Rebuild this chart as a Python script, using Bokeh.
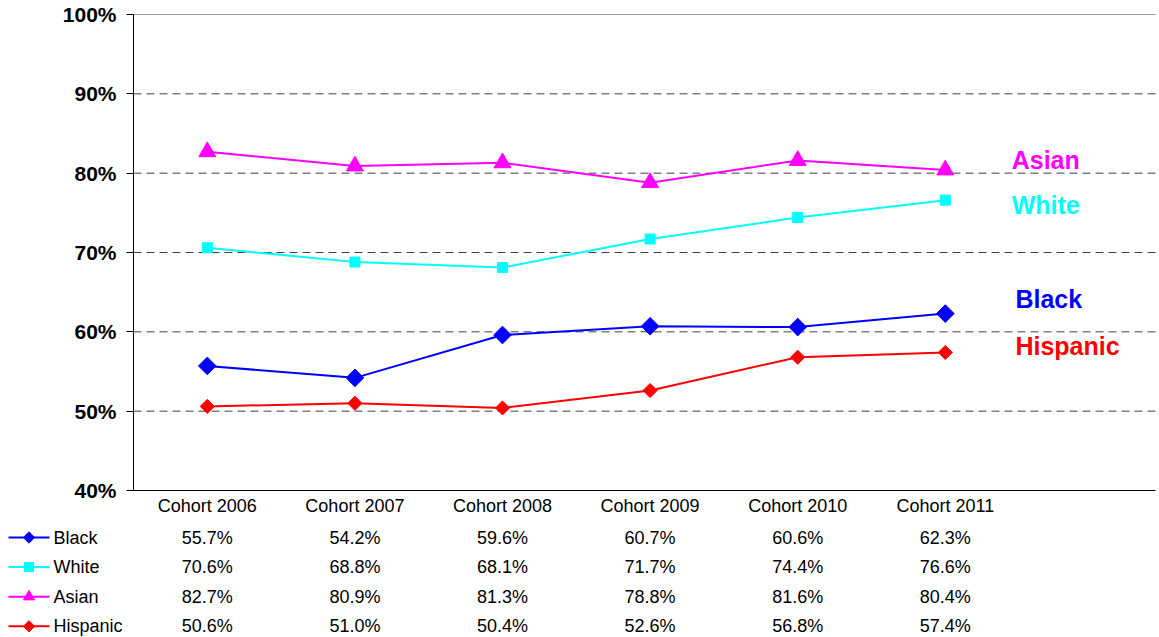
import numpy as np
from bokeh.plotting import figure
from bokeh.models import (Range1d, FixedTicker, LinearAxis, ColumnDataSource, PrintfTickFormatter)
from bokeh.embed import file_html
from bokeh.resources import INLINE
from bokeh.core.properties import value

# ---------------- data ----------------
cohorts = ["Cohort 2006", "Cohort 2007", "Cohort 2008", "Cohort 2009", "Cohort 2010", "Cohort 2011"]
black = [55.7, 54.2, 59.6, 60.7, 60.6, 62.3]
white = [70.6, 68.8, 68.1, 71.7, 74.4, 76.6]
asian = [82.7, 80.9, 81.3, 78.8, 81.6, 80.4]
hispanic = [50.6, 51.0, 50.4, 52.6, 56.8, 57.4]
series_names = ["Black", "White", "Asian", "Hispanic"]
series_values = [black, white, asian, hispanic]
y_ticks = [40, 50, 60, 70, 80, 90, 100]
grid_ticks = [50, 60, 70, 80, 90]
y_min, y_max = 40, 100

# ---------------- styles / layout ----------------
FONT = "Liberation Sans"
colors = ["#0000FF", "#00FFFF", "#FF00FF", "#FF0000"]
markers = ["square", "square", "triangle", "square"]
angles = [np.pi / 4, 0, 0, np.pi / 4]
msizes = [12.5, 10, 17, 10]
key_sizes = [8, 9, 11, 8]
end_label_x = [5.975, 5.95, 5.95, 5.975]
end_label_y = [64.1, 76.0, 81.7, 58.2]

W, H = 1157, 636
AX_LEFT, AX_TOP, AX_RIGHT = 133, 14, 1155   # screen position of the plot area
PX_PER_CAT = 147.6
PX_PER_PCT = 476 / 60.0
x_start = -AX_LEFT / PX_PER_CAT
x_stop = (W - AX_LEFT) / PX_PER_CAT
x_end = (AX_RIGHT - AX_LEFT) / PX_PER_CAT
y_top = y_max + AX_TOP / PX_PER_PCT
y_bottom = y_max - (H - AX_TOP) / PX_PER_PCT
xs = [i + 0.5 for i in range(len(cohorts))]

def sx(px):
    return (px - AX_LEFT) / PX_PER_CAT

ROW0 = 537          # screen y of first table row
ROW_PITCH = 29.6
y40_screen = AX_TOP + (y_max - y_min) * PX_PER_PCT
row_y = [y_min - (ROW0 - y40_screen + ROW_PITCH * r) / PX_PER_PCT for r in range(4)]

# ---------------- figure ----------------
p = figure(width=W, height=H, x_range=Range1d(x_start, x_stop), y_range=Range1d(y_bottom, y_top),
           output_backend="svg", toolbar_location=None, x_axis_location=None, y_axis_location=None,
           min_border=0)
p.outline_line_color = None
p.background_fill_color = "white"
p.border_fill_color = "white"
p.grid.visible = False

# dashed horizontal gridlines across the plot area
p.segment(x0=[0] * len(grid_ticks), x1=[x_end] * len(grid_ticks), y0=grid_ticks, y1=grid_ticks,
          line_color="#404040", line_dash="8 5", line_width=1)

ya = LinearAxis(fixed_location=0, bounds=(y_min, y_max), ticker=FixedTicker(ticks=y_ticks),
                formatter=PrintfTickFormatter(format="%d%%"),
                major_label_text_font=FONT, major_label_text_font_size="21px",
                major_label_text_font_style="bold", major_label_text_color="black",
                major_label_standoff=10, major_tick_out=7, major_tick_in=0,
                minor_tick_out=0, minor_tick_in=0,
                axis_line_color="black", major_tick_line_color="black")
p.add_layout(ya, "left")

xa = LinearAxis(fixed_location=y_min, bounds=(0, x_end), ticker=FixedTicker(ticks=xs),
                major_label_overrides={x: c for x, c in zip(xs, cohorts)},
                major_label_text_font=FONT, major_label_text_font_size="18px",
                major_label_text_color="black", major_label_standoff=5,
                major_tick_out=0, major_tick_in=0, minor_tick_out=0, minor_tick_in=0,
                axis_line_color="black")
p.add_layout(xa, "below")

topa = LinearAxis(fixed_location=y_max, bounds=(0, x_end), ticker=FixedTicker(ticks=[]),
                  major_label_text_font_size="0px", major_tick_out=0, major_tick_in=0,
                  minor_tick_out=0, minor_tick_in=0, axis_line_color="#999999")
p.add_layout(topa, "above")

for name, vals, c, m, a, s in zip(series_names, series_values, colors, markers, angles, msizes):
    p.line(xs, vals, line_color=c, line_width=2)
    p.scatter(xs, vals, marker=m, angle=a, size=s, fill_color=c, line_color=c)

p.text(x=end_label_x, y=end_label_y, text=series_names, text_color=colors,
       text_font=value(FONT), text_font_style="bold", text_font_size="25px",
       text_align="left", text_baseline="middle")

# ---------------- data table ----------------
cell_x, cell_y, cell_text = [], [], []
for r, vals in enumerate(series_values):
    for x, v in zip(xs, vals):
        cell_x.append(x)
        cell_y.append(row_y[r])
        cell_text.append("%.1f%%" % v)
p.text(x="x", y="y", text="text", source=ColumnDataSource(dict(x=cell_x, y=cell_y, text=cell_text)),
       text_font=value(FONT), text_font_size="18px", text_color="black",
       text_align="center", text_baseline="middle")

# legend keys of the data table
n = len(series_names)
p.segment(x0=[sx(8)] * n, x1=[sx(49)] * n, y0=row_y, y1=row_y, line_color=colors, line_width=2)
for r, c, m, a, s in zip(range(n), colors, markers, angles, key_sizes):
    p.scatter([sx(28.5)], [row_y[r]], marker=m, angle=a, size=s, fill_color=c, line_color=c)
p.text(x=[sx(53)] * n, y=row_y, text=series_names, text_font=value(FONT), text_font_size="18px",
       text_color="black", text_align="left", text_baseline="middle")

open("out.html", "w").write(file_html(p, INLINE))
